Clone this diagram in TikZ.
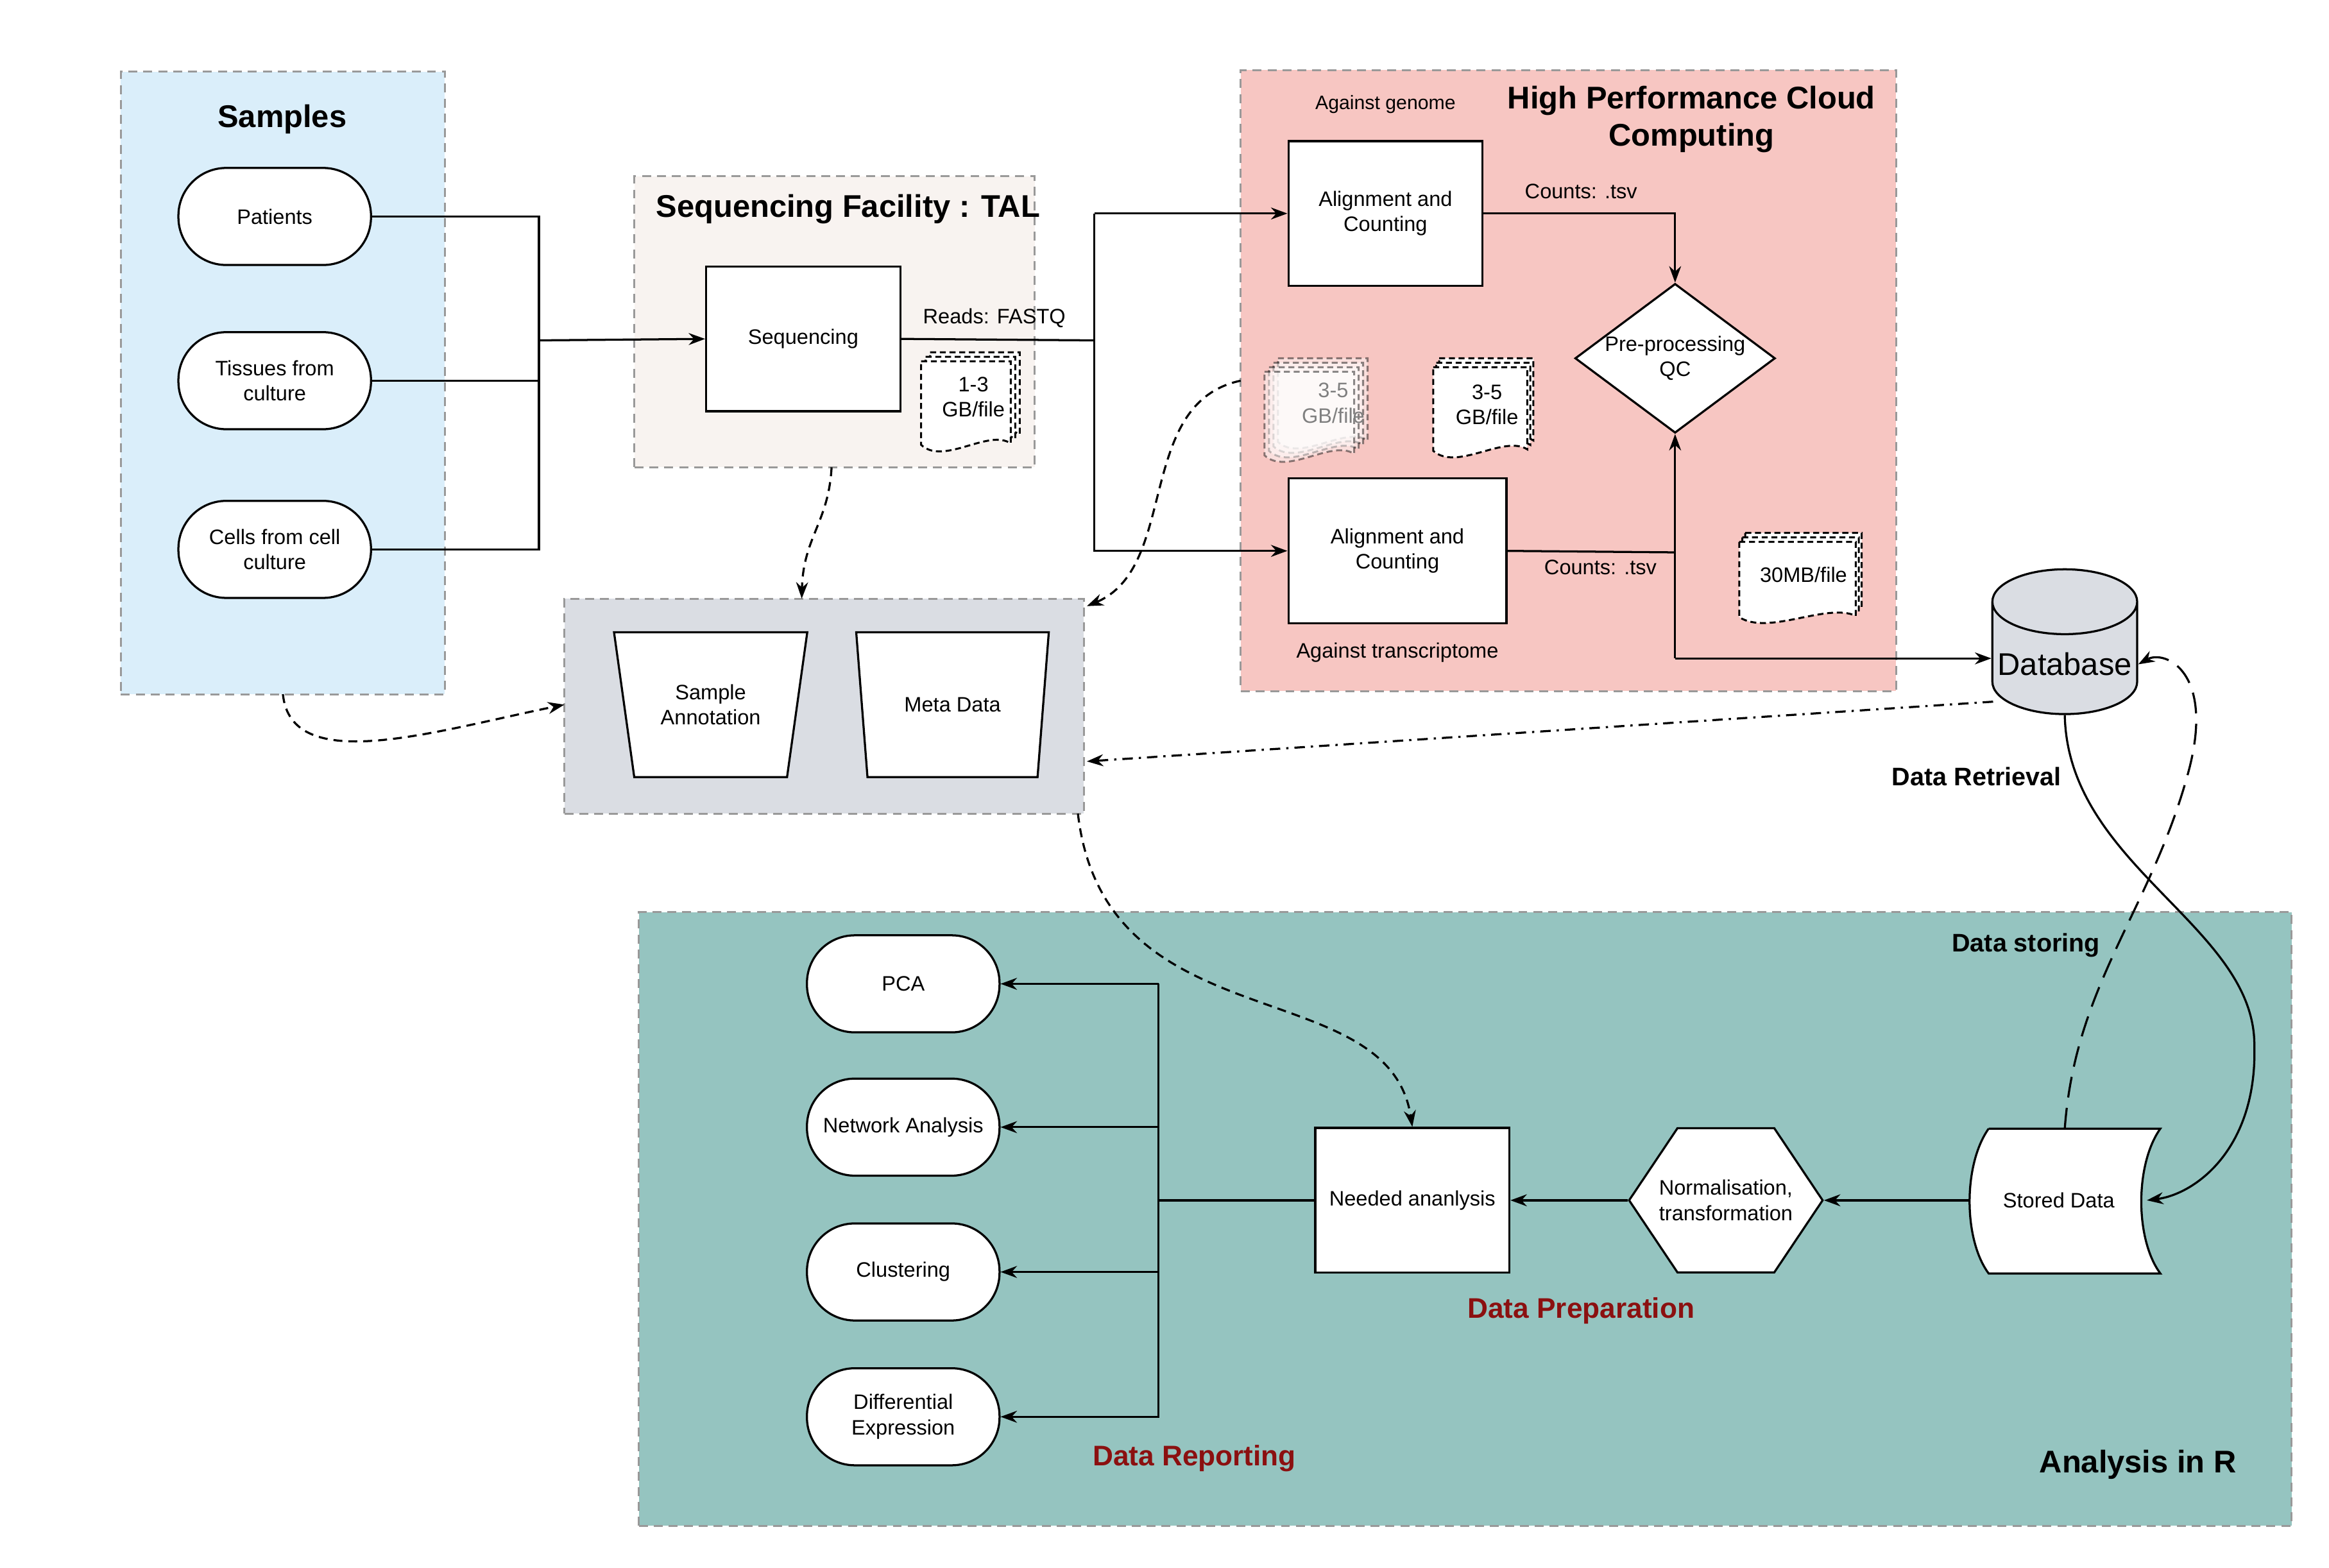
\documentclass[tikz,border=0pt]{standalone}
\usepackage{fontspec}
\setmainfont{Liberation Sans}
\usetikzlibrary{shapes.geometric,arrows.meta}
\definecolor{sampbg}{HTML}{DAEEFA}
\definecolor{seqbg}{HTML}{F8F3F0}
\definecolor{hpcbg}{HTML}{F7C6C2}
\definecolor{metabg}{HTML}{DADDE3}
\definecolor{anbg}{HTML}{95C4C0}
\definecolor{dred}{HTML}{8B1010}
\begin{document}
\begin{tikzpicture}[x=1pt,y=-1pt,
  grp/.style={draw=gray!80,dash pattern=on 6pt off 4pt,line width=1.3pt,inner sep=0pt,outer sep=0pt},
  box/.style={draw,fill=white,line width=1.4pt,minimum width=130pt,minimum height=97pt,align=center,font=\fontsize{14}{17}\selectfont},
  stad/.style={draw,fill=white,line width=1.4pt,rounded corners=32pt,minimum width=129pt,minimum height=65pt,align=center,font=\fontsize{14}{17}\selectfont},
  lbl/.style={font=\fontsize{14}{17}\selectfont,align=center},
  ttl/.style={font=\fontsize{21}{25}\selectfont\bfseries,align=center},
  redt/.style={font=\fontsize{19}{23}\selectfont\bfseries,text=dred},
  ln/.style={line width=1.4pt},
  arr/.style={line width=1.4pt,-{Stealth[length=11pt,width=8pt]}},
  dsh/.style={dash pattern=on 6pt off 4pt},
  docpage/.pic={\draw[dash pattern=on 4pt off 2.5pt,fill=white,line width=1.3pt] (0,0)--(60,0)--(60,55) .. controls (45,45) and (15,70) .. (0,56) -- cycle;}
]
\useasboundingbox (0,0) rectangle (1560,1050);
% groups
\node[grp,fill=sampbg,minimum width=217pt,minimum height=417pt,anchor=north west] (gs) at (81,48) {};
\node[grp,fill=seqbg,minimum width=268pt,minimum height=195pt,anchor=north west] (gq) at (425,118) {};
\node[grp,fill=hpcbg,minimum width=439pt,minimum height=416pt,anchor=north west] (gh) at (831,47) {};
\node[grp,fill=metabg,minimum width=348pt,minimum height=144pt,anchor=north west] (gm) at (378,401) {};
\node[grp,fill=anbg,minimum width=1107pt,minimum height=411pt,anchor=north west] (ga) at (428,611) {};
% titles
\node[ttl] (t1) at (189,80) {Samples};
\node[ttl] (t2) at (568,140) {Sequencing Facility : TAL};
\node[ttl] (t3) at (1133,80) {High Performance Cloud\\Computing};
\node[ttl] (t4) at (1432,981) {Analysis in R};
\node[font=\fontsize{17}{20}\selectfont\bfseries] (t5) at (1357,633) {Data storing};
\node[font=\fontsize{17}{20}\selectfont\bfseries] (t6) at (1324,520) {Data Retrieval};
\node[redt] (t7) at (1059,878) {Data Preparation};
\node[redt] (t8) at (800,977) {Data Reporting};
% samples
\node[stad] (pat) at (184,145) {Patients};
\node[stad] (tis) at (184,255) {Tissues from\\culture};
\node[stad] (cel) at (184,368) {Cells from cell\\culture};
\node[box] (seq) at (538,227) {Sequencing};
\node[box] (al1) at (928,143) {Alignment and\\Counting};
\node[box,minimum width=146pt] (al2) at (936,369) {Alignment and\\Counting};
\node[diamond,draw,fill=white,line width=1.4pt,minimum width=130pt,minimum height=97pt,aspect=1.34,inner sep=0pt,align=center,font=\fontsize{14}{17}\selectfont] (qc) at (1122,240) {Pre-processing\\QC};
\node[cylinder,shape border rotate=90,draw,fill=metabg,line width=1.4pt,minimum width=97pt,minimum height=97pt,aspect=0.45,font=\fontsize{21}{25}\selectfont] (db) at (1383,445) {Database};
\node[lbl,font=\fontsize{13}{16}\selectfont] (ag) at (928,70) {Against genome};
\node[lbl] (at) at (936,437) {Against transcriptome};
\node[lbl] (c1) at (1059,128) {Counts: .tsv};
\node[lbl] (c2) at (1072,380) {Counts: .tsv};
\node[lbl] (rf) at (666,213) {Reads: FASTQ};
% doc stacks
\pic at (623,236) {docpage};
\pic at (620,239) {docpage};
\pic at (617,242) {docpage};
\node[lbl] (d1) at (652,266) {1-3\\GB/file};
\begin{scope}[opacity=0.45]
\pic at (856,240) {docpage};
\pic at (853,243) {docpage};
\pic at (850,246) {docpage};
\pic at (847,249) {docpage};
\end{scope}
\node[lbl,text=gray] (d2) at (893,270) {3-5\\GB/file};
\pic[xscale=1.05] at (964,240) {docpage};
\pic[xscale=1.05] at (962,243) {docpage};
\pic[xscale=1.05] at (960,246) {docpage};
\node[lbl] (d3) at (996,271) {3-5\\GB/file};
\pic[xscale=1.3,yscale=0.9] at (1169,357) {docpage};
\pic[xscale=1.3,yscale=0.9] at (1167,360) {docpage};
\pic[xscale=1.3,yscale=0.9] at (1165,363) {docpage};
\node[lbl] (d4) at (1208,385) {30MB/file};
% meta
\node[trapezium,shape border rotate=180,trapezium angle=74,draw,fill=white,line width=1.4pt,minimum width=130pt,minimum height=97pt,trapezium stretches=true,align=center,font=\fontsize{14}{17}\selectfont] (sa) at (476,472) {Sample\\Annotation};
\node[trapezium,shape border rotate=180,trapezium angle=74,draw,fill=white,line width=1.4pt,minimum width=130pt,minimum height=97pt,trapezium stretches=true,align=center,font=\fontsize{14}{17}\selectfont] (md) at (638,472) {Meta Data};
% analysis
\node[stad] (pca) at (605,659) {PCA};
\node[stad] (net) at (605,755) {Network Analysis};
\node[stad] (clu) at (605,852) {Clustering};
\node[stad] (dif) at (605,949) {Differential\\Expression};
\node[box] (need) at (946,804) {Needed ananlysis};
\node[regular polygon,regular polygon sides=6,draw,fill=white,line width=1.4pt,minimum size=120pt,inner sep=0pt,xscale=1.08,yscale=0.93] (hex) at (1156,804) {};
\node[lbl] (hext) at (1156,804) {Normalisation,\\transformation};
\draw[ln,fill=white] (1332,756) -- (1447,756) .. controls (1430,780) and (1430,830) .. (1447,853) -- (1332,853) .. controls (1315,830) and (1315,780) .. (1332,756);
\coordinate (sdl) at (1319,804);
\coordinate (sdr) at (1438,804);
\coordinate (sdt) at (1383,756);
\node[lbl] (sd) at (1379,804) {Stored Data};
% connectors
\coordinate (j1) at (361,228);
\coordinate (j3) at (1122,441);
\draw[ln] (pat.east) -- (361,145) -- (361,368) -- (cel.east);
\draw[ln] (tis.east) -- (361,255);
\draw[arr] (j1) -- (seq.west);
\coordinate (j2) at (733,228);
\draw[ln] (seq.east) -- (j2);
\draw[arr] (733,143) -- (733,369) -- (al2.west);
\draw[arr] (733,143) -- (al1.west);
\draw[arr] (al1.east) -- (1122,143) -- (qc.north);
\draw[ln] (al2.east) -- (1122,370);
\draw[arr] (j3) -- (qc.south);
\draw[arr] (j3) -- (db.west |- j3);
% dashed
\draw[arr,dsh] (557,313) .. controls (555,350) and (538,360) .. (537,401);
\draw[arr,dsh] (gs.south) .. controls (195,520) and (290,490) .. (378,472);
\draw[arr,dsh] (831,255) .. controls (760,270) and (790,380) .. (728,406);
\draw[arr,dash pattern=on 7pt off 4pt on 1.5pt off 4pt] (1335,470) -- (728,510);
\draw[arr,dsh] (722,545) .. controls (740,700) and (930,650) .. (need.north);
\draw[arr] (db.south) .. controls (1385,580) and (1510,620) .. (1510,700) .. controls (1512,770) and (1470,800) .. (sdr);
\draw[arr,dash pattern=on 14pt off 7pt] (sdt) .. controls (1390,660) and (1440,610) .. (1465,520) .. controls (1485,450) and (1450,435) .. (db.east);
\draw[arr] (sdl) -- (hex.east);
\draw[arr] (hex.west) -- (need.east);
\draw[ln] (need.west) -- (776,804);
\draw[arr] (776,659) -- (776,949) -- (dif.east);
\draw[arr] (776,659) -- (pca.east);
\draw[arr] (776,755) -- (net.east);
\draw[arr] (776,852) -- (clu.east);
\end{tikzpicture}
\end{document}
